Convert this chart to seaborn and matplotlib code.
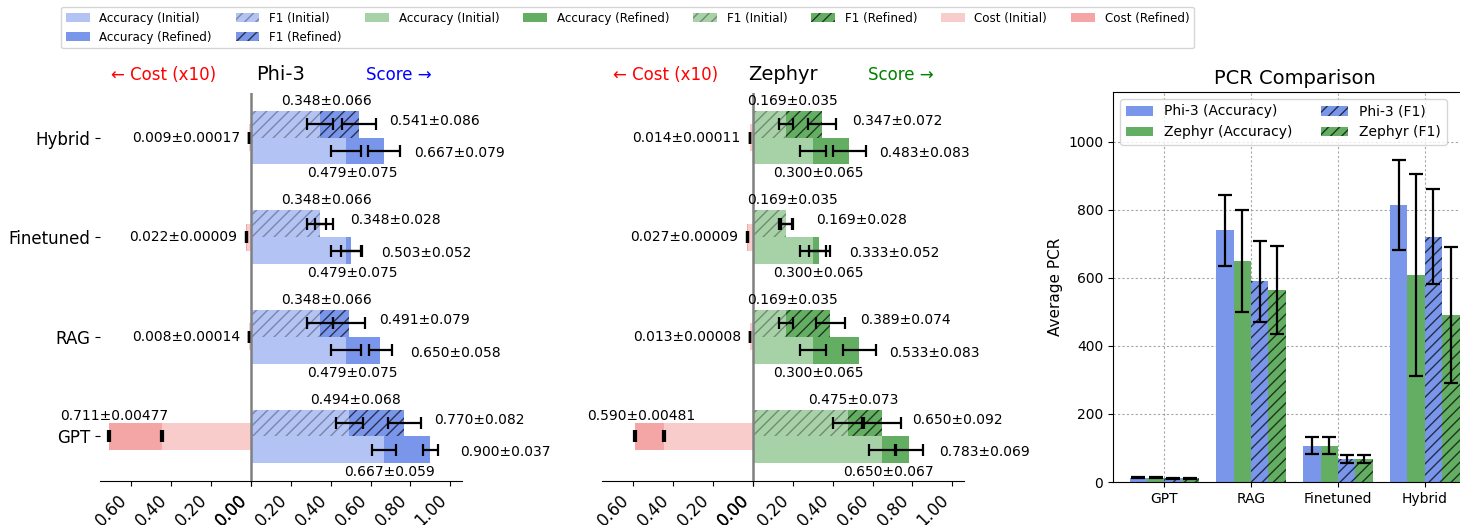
import numpy as np
import pandas as pd
import matplotlib
matplotlib.use("Agg")
import matplotlib.pyplot as plt
from matplotlib.patches import Patch
import matplotlib.transforms as mtransforms
import seaborn as sns

# ---------------- data ----------------
categories = ["GPT", "RAG", "Finetuned", "Hybrid"]
plot_order = ["Hybrid", "Finetuned", "RAG", "GPT"]   # top -> bottom

# Phi-3
phi_f1_init = [0.494, 0.348, 0.348, 0.348]
phi_f1_init_err = [0.068, 0.066, 0.066, 0.066]
phi_f1_ref = [0.770, 0.491, 0.348, 0.541]
phi_f1_ref_err = [0.082, 0.079, 0.028, 0.086]
phi_acc_init = [0.667, 0.479, 0.479, 0.479]
phi_acc_init_err = [0.059, 0.075, 0.075, 0.075]
phi_acc_ref = [0.900, 0.650, 0.503, 0.667]
phi_acc_ref_err = [0.037, 0.058, 0.052, 0.079]
phi_cost_init = [0.444, 0.006, 0.020, 0.007]
phi_cost_init_err = [0.00300, 0.00010, 0.00008, 0.00012]
phi_cost_ref = [0.711, 0.008, 0.022, 0.009]
phi_cost_ref_err = [0.00477, 0.00014, 0.00009, 0.00017]

# Zephyr
zep_f1_init = [0.475, 0.169, 0.169, 0.169]
zep_f1_init_err = [0.073, 0.035, 0.035, 0.035]
zep_f1_ref = [0.650, 0.389, 0.169, 0.347]
zep_f1_ref_err = [0.092, 0.074, 0.028, 0.072]
zep_acc_init = [0.650, 0.300, 0.300, 0.300]
zep_acc_init_err = [0.067, 0.065, 0.065, 0.065]
zep_acc_ref = [0.783, 0.533, 0.333, 0.483]
zep_acc_ref_err = [0.069, 0.083, 0.052, 0.083]
zep_cost_init = [0.444, 0.011, 0.025, 0.012]
zep_cost_init_err = [0.00300, 0.00006, 0.00008, 0.00009]
zep_cost_ref = [0.590, 0.013, 0.027, 0.014]
zep_cost_ref_err = [0.00481, 0.00008, 0.00009, 0.00011]

xtick_values = [-0.6, -0.4, -0.2, 0.0, 0.0, 0.2, 0.4, 0.6, 0.8, 1.0]
xtick_labels = ["0.60", "0.40", "0.20", "0.00", "0.00", "0.20", "0.40", "0.60", "0.80", "1.00"]

# PCR comparison
pcr_series = ["Phi-3 (Accuracy)", "Zephyr (Accuracy)", "Phi-3 (F1)", "Zephyr (F1)"]
pcr_phi_acc = [13, 740, 106, 814]
pcr_phi_acc_err = [1.5, 105, 25, 133]
pcr_zep_acc = [13, 649, 106, 610]
pcr_zep_acc_err = [1.5, 150, 25, 297]
pcr_phi_f1 = [11, 590, 67, 722]
pcr_phi_f1_err = [1.2, 118, 12, 140]
pcr_zep_f1 = [11, 564, 67, 491]
pcr_zep_f1_err = [1.2, 130, 12, 200]

# ---------------- style ----------------
BLUE_L, BLUE_D = "#b3c3f3", "#7a96ea"
GREEN_L, GREEN_D = "#a7d1a7", "#64ae64"
RED_L, RED_D = "#f9cccc", "#f4a6a6"
HATCH_BL, HATCH_BD = "#7b86a6", "#2a3250"
HATCH_GL, HATCH_GD = "#728b72", "#223a22"
HATCH = "///"
BAR_H = 0.27

plt.rcParams["font.family"] = ["DejaVu Sans"]
plt.rcParams["hatch.linewidth"] = 1.0

fig = plt.figure(figsize=(14.6, 5.25), dpi=100)
ax1 = fig.add_axes([100 / 1460, 44 / 525, 362 / 1460, 388 / 525])
ax2 = fig.add_axes([602 / 1460, 44 / 525, 362 / 1460, 388 / 525])
ax3 = fig.add_axes([1113 / 1460, 43 / 525, 363 / 1460, 390 / 525])


def score_layer(ax, f1_vals, acc_vals, color, hatch_color):
    df = pd.DataFrame({
        "Method": categories * 2,
        "Metric": ["F1"] * 4 + ["Accuracy"] * 4,
        "Score": list(f1_vals) + list(acc_vals),
    })
    n0 = len(ax.patches)
    sns.barplot(data=df, y="Method", x="Score", hue="Metric",
                hue_order=["F1", "Accuracy"], order=plot_order, orient="h",
                width=2 * BAR_H, palette={"F1": color, "Accuracy": color},
                saturation=1, errorbar=None, legend=False, linewidth=0, ax=ax)
    for p in ax.patches[n0:]:
        yc = p.get_y() + p.get_height() / 2
        if yc < round(yc):
            p.set_hatch(HATCH)
            p.set_edgecolor(hatch_color)
            p.set_linewidth(0)


def cost_layer(ax, costs, color):
    df = pd.DataFrame({"Method": categories, "Cost": -np.array(costs)})
    sns.barplot(data=df, y="Method", x="Cost", order=plot_order, orient="h",
                width=BAR_H, color=color, saturation=1, errorbar=None,
                linewidth=0, ax=ax)


def draw_model(ax, name, score_color, cl, cd, hl, hd,
               f1_i, f1_ie, f1_r, f1_re, acc_i, acc_ie, acc_r, acc_re,
               c_i, c_ie, c_r, c_re, show_labels):
    score_layer(ax, f1_r, acc_r, cd, hd)
    score_layer(ax, f1_i, acc_i, cl, hl)
    cost_layer(ax, c_r, RED_D)
    cost_layer(ax, c_i, RED_L)

    pos = np.array([plot_order.index(c) for c in categories], dtype=float)
    yf1 = pos - BAR_H / 2
    yacc = pos + BAR_H / 2
    ekw = dict(fmt="none", ecolor="black", elinewidth=1.6, capsize=4.5,
               capthick=1.6, zorder=4)
    ax.errorbar(f1_i, yf1, xerr=f1_ie, **ekw)
    ax.errorbar(f1_r, yf1, xerr=f1_re, **ekw)
    ax.errorbar(acc_i, yacc, xerr=acc_ie, **ekw)
    ax.errorbar(acc_r, yacc, xerr=acc_re, **ekw)
    ax.errorbar(-np.array(c_i), pos, xerr=c_ie, **ekw)
    ax.errorbar(-np.array(c_r), pos, xerr=c_re, **ekw)

    ax.axvline(0, color="gray", lw=1.8, zorder=3)

    fs = 10
    for k in range(len(categories)):
        p = pos[k]
        ax.text(f1_i[k] + 0.03, p - 0.37, f"{f1_i[k]:.3f}±{f1_ie[k]:.3f}",
                ha="center", va="center", fontsize=fs)
        ax.text(f1_r[k] + 0.15, p - 0.17, f"{f1_r[k]:.3f}±{f1_re[k]:.3f}",
                ha="left", va="center", fontsize=fs)
        ax.text(acc_r[k] + 0.15, p + 0.16, f"{acc_r[k]:.3f}±{acc_re[k]:.3f}",
                ha="left", va="center", fontsize=fs)
        ax.text(acc_i[k] + 0.03, p + 0.36, f"{acc_i[k]:.3f}±{acc_ie[k]:.3f}",
                ha="center", va="center", fontsize=fs)
        lab = f"{c_r[k]:.3f}±{c_re[k]:.5f}"
        if c_r[k] > 0.1:
            ax.text(-c_r[k] + 0.03, p - 0.21, lab, ha="center", va="center",
                    fontsize=fs)
        else:
            ax.text(-c_r[k] - 0.045, p, lab, ha="right", va="center",
                    fontsize=fs)

    ax.set_xlim(-0.754, 1.058)
    ax.set_ylim(3.447, -0.447)
    ax.set_xticks(xtick_values)
    ax.set_xticklabels(xtick_labels, rotation=45, ha="right", fontsize=12)
    ax.set_xlabel("")
    ax.set_ylabel("")
    for s in ["left", "top", "right"]:
        ax.spines[s].set_visible(False)
    if show_labels:
        ax.tick_params(axis="y", labelsize=12)
    else:
        ax.tick_params(axis="y", length=0, labelleft=False)

    tr = mtransforms.blended_transform_factory(ax.transData, ax.transAxes)
    ax.text(0.5, 1.034, name, transform=ax.transAxes, ha="center",
            va="baseline", fontsize=14)
    ax.text(-0.437, 1.034, "← Cost (x10)", transform=tr, ha="center",
            va="baseline", fontsize=12, color="red")
    ax.text(0.74, 1.034, "Score →", transform=tr, ha="center",
            va="baseline", fontsize=12, color=score_color)


draw_model(ax1, "Phi-3", "blue", BLUE_L, BLUE_D, HATCH_BL, HATCH_BD,
           phi_f1_init, phi_f1_init_err, phi_f1_ref, phi_f1_ref_err,
           phi_acc_init, phi_acc_init_err, phi_acc_ref, phi_acc_ref_err,
           phi_cost_init, phi_cost_init_err, phi_cost_ref, phi_cost_ref_err,
           True)
draw_model(ax2, "Zephyr", "green", GREEN_L, GREEN_D, HATCH_GL, HATCH_GD,
           zep_f1_init, zep_f1_init_err, zep_f1_ref, zep_f1_ref_err,
           zep_acc_init, zep_acc_init_err, zep_acc_ref, zep_acc_ref_err,
           zep_cost_init, zep_cost_init_err, zep_cost_ref, zep_cost_ref_err,
           False)

# ---------------- PCR panel ----------------
pcr_values = [pcr_phi_acc, pcr_zep_acc, pcr_phi_f1, pcr_zep_f1]
pcr_errors = [pcr_phi_acc_err, pcr_zep_acc_err, pcr_phi_f1_err, pcr_zep_f1_err]
pcr_colors = [BLUE_D, GREEN_D, BLUE_D, GREEN_D]
df_pcr = pd.DataFrame({
    "Method": categories * 4,
    "Series": [s for s in pcr_series for _ in categories],
    "PCR": [v for vals in pcr_values for v in vals],
})
sns.barplot(data=df_pcr, x="Method", y="PCR", hue="Series", order=categories,
            hue_order=pcr_series, palette=dict(zip(pcr_series, pcr_colors)),
            width=0.8, saturation=1, errorbar=None, legend=False, linewidth=0,
            ax=ax3)
for p in ax3.patches:
    xc = p.get_x() + p.get_width() / 2
    if xc > round(xc):
        fc = p.get_facecolor()
        p.set_hatch(HATCH)
        p.set_edgecolor("#252d46" if fc[2] > 0.6 else "#1e341e")
        p.set_linewidth(0)

n_ser = len(pcr_series)
bw = 0.8 / n_ser
xpos = np.arange(len(categories))
for k in range(n_ser):
    ax3.errorbar(xpos + (k - (n_ser - 1) / 2) * bw, pcr_values[k],
                 yerr=pcr_errors[k], fmt="none", ecolor="black",
                 elinewidth=1.6, capsize=5, capthick=1.6, zorder=4)

ax3.set_xlim(-0.59, 3.59)
ax3.set_ylim(0, 1147)
ax3.set_axisbelow(True)
ax3.grid(True, linestyle=(0, (2, 2)), color="gray", alpha=0.7, linewidth=0.8)
ax3.set_xlabel("")
ax3.set_ylabel("Average PCR", fontsize=11)
ax3.tick_params(labelsize=10)
ax3.set_title("PCR Comparison", fontsize=14, pad=6)

pcr_handles = [
    Patch(facecolor=BLUE_D, linewidth=0, label=pcr_series[0]),
    Patch(facecolor=GREEN_D, linewidth=0, label=pcr_series[1]),
    Patch(facecolor=BLUE_D, hatch=HATCH, edgecolor="#252d46", linewidth=0,
          label=pcr_series[2]),
    Patch(facecolor=GREEN_D, hatch=HATCH, edgecolor="#1e341e", linewidth=0,
          label=pcr_series[3]),
]
ax3.legend(handles=pcr_handles, loc="upper left", ncol=2, fontsize=10)

# ---------------- top legend ----------------
top_handles = [
    Patch(facecolor=BLUE_L, linewidth=0, label="Accuracy (Initial)"),
    Patch(facecolor=BLUE_D, linewidth=0, label="Accuracy (Refined)"),
    Patch(facecolor=BLUE_L, hatch=HATCH, edgecolor=HATCH_BL, linewidth=0, label="F1 (Initial)"),
    Patch(facecolor=BLUE_D, hatch=HATCH, edgecolor=HATCH_BD, linewidth=0, label="F1 (Refined)"),
    Patch(facecolor=GREEN_L, linewidth=0, label="Accuracy (Initial)"),
    Patch(facecolor=GREEN_D, linewidth=0, label="Accuracy (Refined)"),
    Patch(facecolor=GREEN_L, hatch=HATCH, edgecolor=HATCH_GL, linewidth=0, label="F1 (Initial)"),
    Patch(facecolor=GREEN_D, hatch=HATCH, edgecolor=HATCH_GD, linewidth=0, label="F1 (Refined)"),
    Patch(facecolor=RED_L, linewidth=0, label="Cost (Initial)"),
    Patch(facecolor=RED_D, linewidth=0, label="Cost (Refined)"),
]
fig.legend(handles=top_handles, ncol=8, loc="upper left",
           bbox_to_anchor=(55 / 1460, 1 - 1 / 525), fontsize=8.6)

fig.savefig("out.png", dpi=100)
